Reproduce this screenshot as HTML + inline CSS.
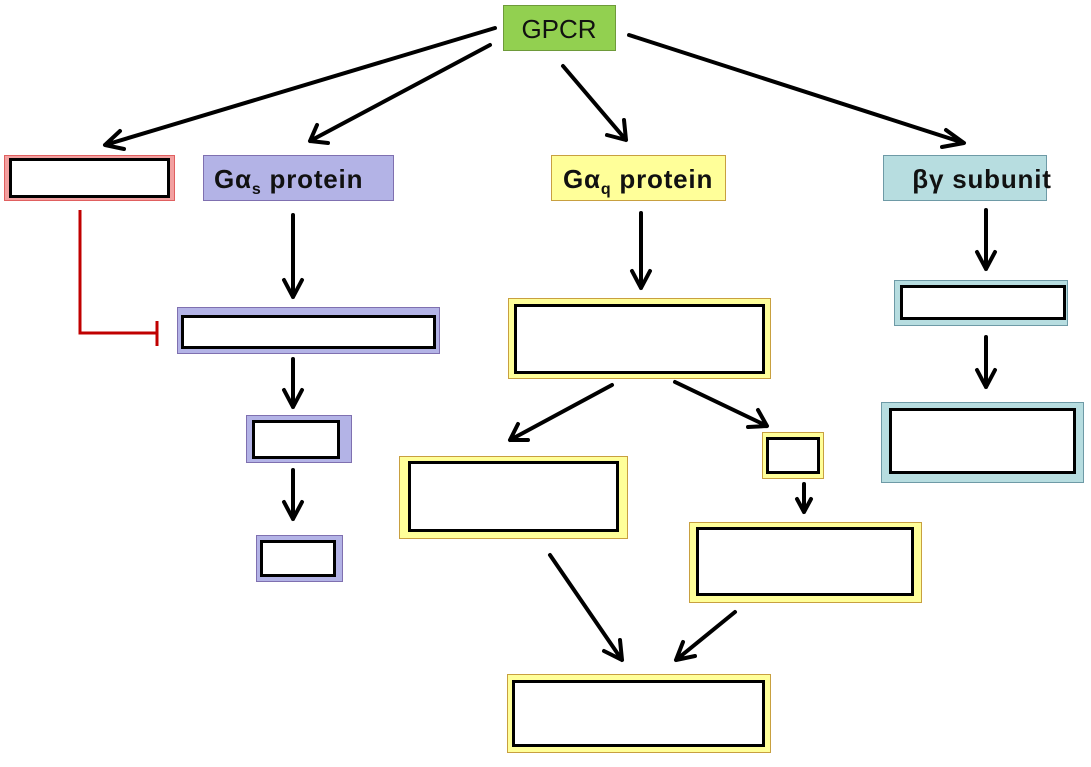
<!DOCTYPE html>
<html><head><meta charset="utf-8"><style>
html,body{margin:0;padding:0;background:#fff;}
svg{display:block;}
text{font-family:"Liberation Sans",Arial,sans-serif;}
</style></head><body>
<svg width="1091" height="767" viewBox="0 0 1091 767" xmlns="http://www.w3.org/2000/svg">
<rect x="503.5" y="5.5" width="112" height="45" fill="#92d050" stroke="#6e9a3a"/>
<text x="559" y="38" font-size="26" text-anchor="middle" fill="#111">GPCR</text>

<rect x="4.5" y="155.5" width="170" height="45" fill="#f2a0a0" stroke="#e06060"/>
<rect x="10.5" y="159.5" width="158" height="37" fill="#fff" stroke="#000" stroke-width="3"/>

<rect x="203.5" y="155.5" width="190" height="45" fill="#b3b3e6" stroke="#7f70b0"/>
<text x="214" y="188" font-size="26" font-weight="bold" fill="#111" letter-spacing="0.8">Gα<tspan font-size="16" dy="6">s</tspan><tspan dy="-6"> protein</tspan></text>

<rect x="551.5" y="155.5" width="174" height="45" fill="#ffff99" stroke="#c8a040"/>
<text x="563" y="188" font-size="26" font-weight="bold" fill="#111" letter-spacing="0.8">Gα<tspan font-size="16" dy="6">q</tspan><tspan dy="-6"> protein</tspan></text>

<rect x="883.5" y="155.5" width="163" height="45" fill="#b7dde0" stroke="#6e9aa6"/>
<text x="982" y="188" font-size="26" font-weight="bold" fill="#111" text-anchor="middle" letter-spacing="0.8">βγ subunit</text>

<rect x="177.5" y="307.5" width="262" height="46" fill="#b3b3e6" stroke="#7f70b0"/>
<rect x="182.5" y="316.5" width="252" height="31" fill="#fff" stroke="#000" stroke-width="3"/>
<rect x="246.5" y="415.5" width="105" height="47" fill="#b3b3e6" stroke="#7f70b0"/>
<rect x="253.5" y="421.5" width="85" height="36" fill="#fff" stroke="#000" stroke-width="3"/>
<rect x="256.5" y="535.5" width="86" height="46" fill="#b3b3e6" stroke="#7f70b0"/>
<rect x="261.5" y="541.5" width="73" height="34" fill="#fff" stroke="#000" stroke-width="3"/>

<rect x="508.5" y="298.5" width="262" height="80" fill="#ffff99" stroke="#c8a040"/>
<rect x="515.5" y="305.5" width="248" height="67" fill="#fff" stroke="#000" stroke-width="3"/>
<rect x="399.5" y="456.5" width="228" height="82" fill="#ffff99" stroke="#c8a040"/>
<rect x="409.5" y="462.5" width="208" height="68" fill="#fff" stroke="#000" stroke-width="3"/>
<rect x="762.5" y="432.5" width="61" height="46" fill="#ffff99" stroke="#c8a040"/>
<rect x="767.5" y="438.5" width="51" height="34" fill="#fff" stroke="#000" stroke-width="3"/>
<rect x="689.5" y="522.5" width="232" height="80" fill="#ffff99" stroke="#c8a040"/>
<rect x="697.5" y="528.5" width="215" height="66" fill="#fff" stroke="#000" stroke-width="3"/>
<rect x="507.5" y="674.5" width="263" height="78" fill="#ffff99" stroke="#c8a040"/>
<rect x="513.5" y="681.5" width="250" height="64" fill="#fff" stroke="#000" stroke-width="3"/>

<rect x="894.5" y="280.5" width="173" height="45" fill="#b7dde0" stroke="#6e9aa6"/>
<rect x="901.5" y="286.5" width="163" height="32" fill="#fff" stroke="#000" stroke-width="3"/>
<rect x="881.5" y="402.5" width="202" height="80" fill="#b7dde0" stroke="#6e9aa6"/>
<rect x="890.5" y="409.5" width="184" height="63" fill="#fff" stroke="#000" stroke-width="3"/>

<polyline points="80,210 80,333 156,333" fill="none" stroke="#c00000" stroke-width="3"/>
<line x1="157" y1="321" x2="157" y2="346" stroke="#c00000" stroke-width="3"/>

<g stroke="#000" stroke-width="4" fill="none" stroke-linecap="round" stroke-linejoin="round">
<path d="M495,28 L105,145 M120,131 L105,145 L124,149"/>
<path d="M490,45 L310,141 M317,125 L310,141 L328,143"/>
<path d="M563,66 L626,140 M624,120 L626,140 L607,135"/>
<path d="M629,35 L964,143 M946,130 L964,143 L942,147"/>
<path d="M293,215 L293,297 M284,280 L293,297 L302,280"/>
<path d="M641,213 L641,288 M632,271 L641,288 L650,271"/>
<path d="M986,210 L986,269 M977,252 L986,269 L995,252"/>
<path d="M986,337 L986,387 M977,370 L986,387 L995,370"/>
<path d="M293,359 L293,407 M284,390 L293,407 L302,390"/>
<path d="M293,470 L293,519 M284,502 L293,519 L302,502"/>
<path d="M612,385 L510,440 M518,424 L510,440 L528,440"/>
<path d="M675,382 L767,426 M758,410 L767,426 L748,427"/>
<path d="M804,484 L804,512 M797,499 L804,512 L811,499"/>
<path d="M550,555 L622,660 M620,640 L622,660 L604,651"/>
<path d="M735,612 L676,660 M683,642 L676,660 L695,656"/>
</g>
</svg>
</body></html>
